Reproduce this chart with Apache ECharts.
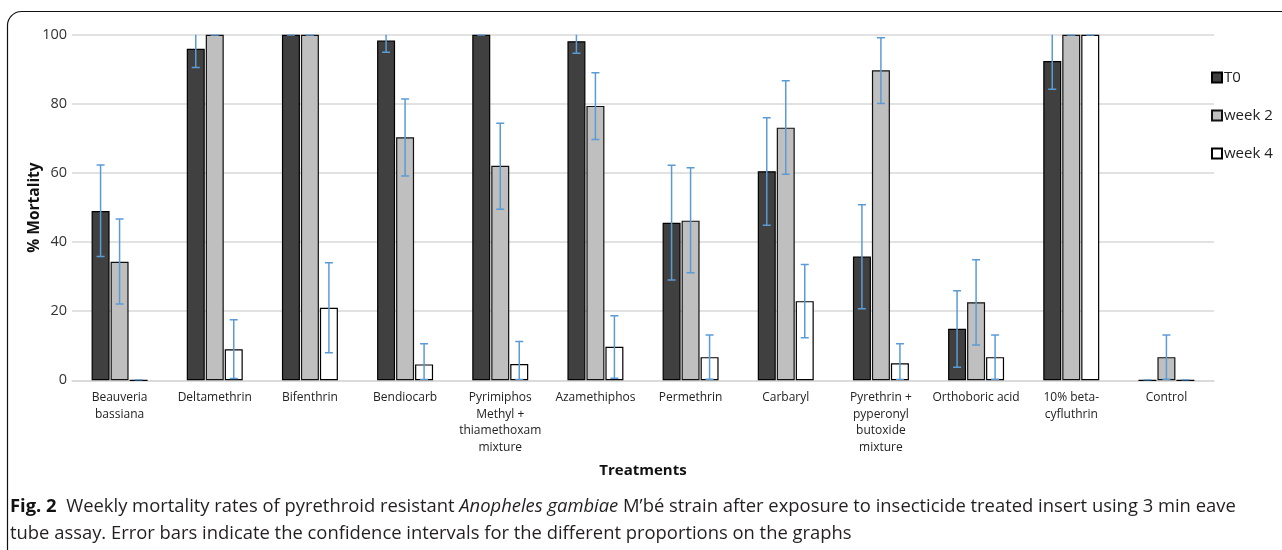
<!DOCTYPE html>
<html>
<head>
<meta charset="utf-8">
<script src="https://cdn.jsdelivr.net/npm/echarts@6/dist/echarts.min.js"></script>
<style>html,body{margin:0;padding:0;background:#fff}#c{width:1282px;height:550px}</style>
</head>
<body>
<div id="c"></div>
<script>
const categories = ["Beauveria\nbassiana","Deltamethrin","Bifenthrin","Bendiocarb","Pyrimiphos\nMethyl +\nthiamethoxam\nmixture","Azamethiphos","Permethrin","Carbaryl","Pyrethrin +\npyperonyl\nbutoxide\nmixture","Orthoboric acid","10% beta-\ncyfluthrin","Control"];
const seriesNames = ["T0","week 2","week 4"];
const t0 =    [49.0, 95.9, 100, 98.3, 100, 98.1, 45.6, 60.5, 35.8, 14.9, 92.4, 0];
const week2 = [34.3, 100, 100, 70.3, 62.1, 79.4, 46.2, 73.1, 89.7, 22.6, 100, 6.7];
const week4 = [0, 9.0, 21.0, 4.6, 4.7, 9.7, 6.7, 22.9, 4.9, 6.7, 100, 0];
const t0Low =     [35.8, 90.5, 100, 94.9, 100, 94.6, 29.0, 44.9, 20.7, 3.8, 84.2, 0];
const t0High =    [62.3, 101, 100, 101, 100, 101, 62.2, 76.0, 50.8, 25.9, 101, 0];
const week2Low =  [22.1, 100, 100, 59.1, 49.5, 69.7, 31.1, 59.6, 80.1, 10.2, 100, 0.3];
const week2High = [46.7, 100, 100, 81.4, 74.4, 89.0, 61.5, 86.7, 99.1, 34.9, 100, 13.1];
const week4Low =  [0, 0.5, 8.0, 0.2, 0.2, 0.6, 0.3, 12.3, 0.2, 0.3, 100, 0];
const week4High = [0, 17.5, 34.0, 10.6, 11.2, 18.7, 13.1, 33.5, 10.6, 13.1, 100, 0];
const yTicks = [0, 20, 40, 60, 80, 100];

const chart = echarts.init(document.getElementById('c'), null, {renderer:'canvas'});
const fontMain = '"Open Sans", "Noto Sans", sans-serif';
const capFont = '"Open Sans", "Noto Sans", sans-serif';

function errSeries(name, low, high, offset) {
  return {
    type: 'custom',
    name: name + ' err',
    clip: true,
    z: 5,
    data: low.map((l, i) => [i, l, high[i]]),
    renderItem: function (params, api) {
      const c = api.value(0);
      const pLo = api.coord([c, api.value(1)]);
      const pHi = api.coord([c, api.value(2)]);
      const x = pLo[0] + offset;
      const hw = 4;
      const st = {stroke: '#5B9BD5', lineWidth: 1.5};
      return {
        type: 'group',
        children: [
          {type: 'line', shape: {x1: x, y1: pLo[1], x2: x, y2: pHi[1]}, style: st},
          {type: 'line', shape: {x1: x - hw, y1: pLo[1], x2: x + hw, y2: pLo[1]}, style: st},
          {type: 'line', shape: {x1: x - hw, y1: pHi[1], x2: x + hw, y2: pHi[1]}, style: st}
        ]
      };
    },
    tooltip: {show: false}
  };
}

const barBase = {type: 'bar', barWidth: 18, barGap: '5.5%'};
const option = {
  animation: false,
  backgroundColor: '#fff',
  grid: {left: 72, right: 68, top: 34.7, bottom: 169.7},
  legend: {
    orient: 'vertical', left: 1211, top: 70, itemGap: 23, padding: 0,
    itemWidth: 10, itemHeight: 10, icon: 'rect',
    textStyle: {fontFamily: fontMain, fontSize: 15, color: '#222', padding: [0,0,0,-3]},
    data: seriesNames
  },
  xAxis: {
    type: 'category', data: categories,
    axisLine: {lineStyle: {color: '#D9D9D9', width: 1.5}},
    axisTick: {show: false},
    axisLabel: {interval: 0, fontFamily: fontMain, fontSize: 12, color: '#222', lineHeight: 16.7, margin: 9},
    name: 'Treatments', nameLocation: 'middle', nameGap: 83,
    nameTextStyle: {fontFamily: fontMain, fontSize: 15, fontWeight: 'bold', color: '#111'}
  },
  yAxis: {
    type: 'value', min: 0, max: 100, interval: 20,
    axisLine: {show: false}, axisTick: {show: false},
    splitLine: {lineStyle: {color: '#D9D9D9', width: 1.5}},
    axisLabel: {fontFamily: fontMain, fontSize: 14.5, color: '#333', margin: 5,
      formatter: v => yTicks.indexOf(v) >= 0 ? String(v) : ''},
    name: '% Mortality', nameLocation: 'middle', nameGap: 29, nameRotate: 90,
    nameMoveOverlap: false,
    nameTextStyle: {fontFamily: fontMain, fontSize: 15.5, fontWeight: 'bold', color: '#111'}
  },
  series: [
    Object.assign({}, barBase, {name: 'T0', data: t0, itemStyle: {color: '#404040', borderColor: '#000', borderWidth: 1.2}}),
    Object.assign({}, barBase, {name: 'week 2', data: week2, itemStyle: {color: '#BFBFBF', borderColor: '#111', borderWidth: 1.2}}),
    Object.assign({}, barBase, {name: 'week 4', data: week4, itemStyle: {color: '#FFFFFF', borderColor: '#000', borderWidth: 1.2}}),
    errSeries('T0', t0Low, t0High, -19),
    errSeries('week 2', week2Low, week2High, 0),
    errSeries('week 4', week4Low, week4High, 19)
  ],
  graphic: [
    {type: 'rect', shape: {x: 7.5, y: 11.5, width: 1400, height: 700, r: 14},
      style: {fill: 'none', stroke: '#111', lineWidth: 1.2}, z: -1, silent: true},
    {type: 'text', left: 10, top: 493, style: {
      text: '{b|Fig. 2}  Weekly mortality rates of pyrethroid resistant {i|Anopheles gambiae} M’bé strain after exposure to insecticide treated insert using 3 min eave\ntube assay. Error bars indicate the confidence intervals for the different proportions on the graphs',
      fontFamily: capFont, fontSize: 18.4,
      fill: '#231f20', lineHeight: 27,
      rich: {
        b: {fontWeight: 'bold', fontFamily: capFont, fontSize: 18.4, fill: '#111', lineHeight: 27},
        i: {fontStyle: 'italic', fontFamily: capFont, fontSize: 18.4, fill: '#231f20', lineHeight: 27}
      }
    }}
  ]
};
chart.setOption(option);
</script>
</body>
</html>
